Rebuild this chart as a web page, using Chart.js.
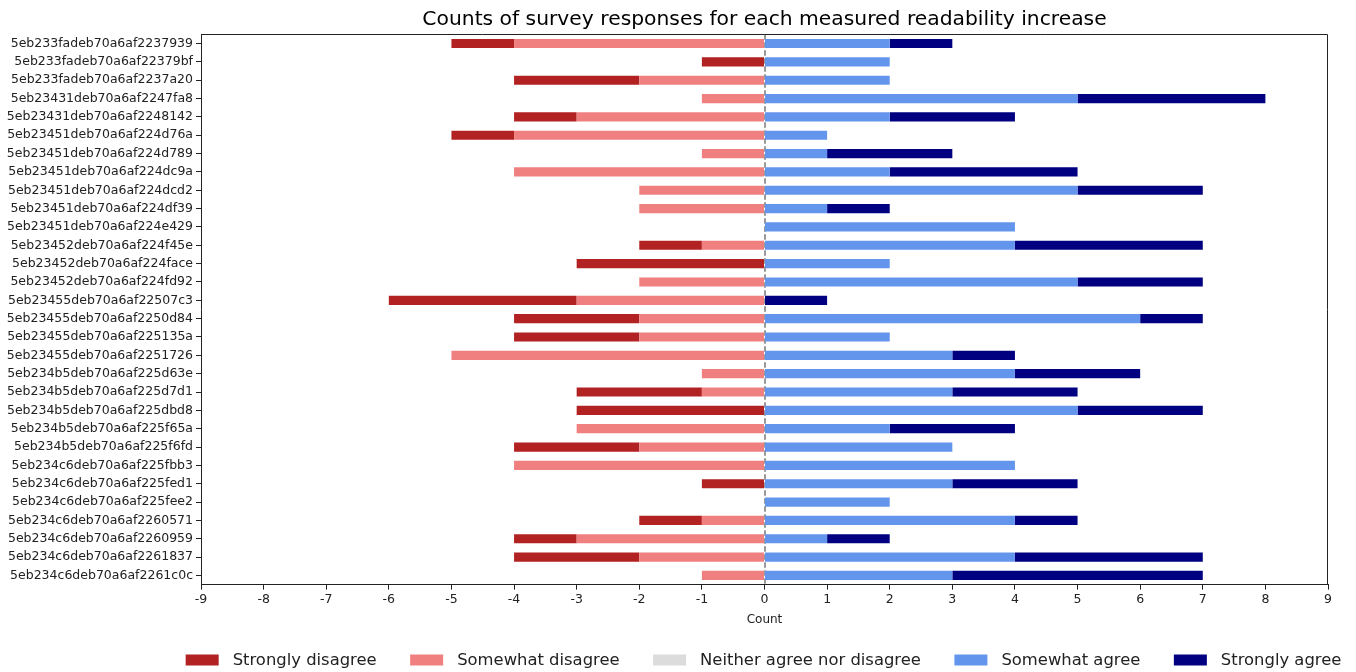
<!DOCTYPE html>
<html>
<head>
<meta charset="utf-8">
<script src="https://cdn.jsdelivr.net/npm/chart.js@4.4.1/dist/chart.umd.min.js"></script>
<style>
  html, body { margin: 0; background: #fff; }
  #wrap { width: 1356px; height: 672px; position: relative; }
</style>
</head>
<body>
<div id="wrap"><canvas id="chart"></canvas></div>
<script>
// Survey items (one row each)
const categories = [
  '5eb233fadeb70a6af2237939', '5eb233fadeb70a6af22379bf', '5eb233fadeb70a6af2237a20',
  '5eb23431deb70a6af2247fa8', '5eb23431deb70a6af2248142', '5eb23451deb70a6af224d76a',
  '5eb23451deb70a6af224d789', '5eb23451deb70a6af224dc9a', '5eb23451deb70a6af224dcd2',
  '5eb23451deb70a6af224df39', '5eb23451deb70a6af224e429', '5eb23452deb70a6af224f45e',
  '5eb23452deb70a6af224face', '5eb23452deb70a6af224fd92', '5eb23455deb70a6af22507c3',
  '5eb23455deb70a6af2250d84', '5eb23455deb70a6af225135a', '5eb23455deb70a6af2251726',
  '5eb234b5deb70a6af225d63e', '5eb234b5deb70a6af225d7d1', '5eb234b5deb70a6af225dbd8',
  '5eb234b5deb70a6af225f65a', '5eb234b5deb70a6af225f6fd', '5eb234c6deb70a6af225fbb3',
  '5eb234c6deb70a6af225fed1', '5eb234c6deb70a6af225fee2', '5eb234c6deb70a6af2260571',
  '5eb234c6deb70a6af2260959', '5eb234c6deb70a6af2261837', '5eb234c6deb70a6af2261c0c'
];

// Response counts per item
const stronglyDisagree = [1,1,2,0,1,1,0,0,0,0,0,1,3,0,3,2,2,0,0,2,3,0,2,0,1,0,1,1,2,0];
const somewhatDisagree = [4,0,2,1,3,4,1,4,2,2,0,1,0,2,3,2,2,5,1,1,0,3,2,4,0,0,1,3,2,1];
const neitherAgree     = [0,0,0,0,0,0,0,0,0,0,0,0,0,0,0,0,0,0,0,0,0,0,0,0,0,0,0,0,0,0];
const somewhatAgree    = [2,2,2,5,2,1,1,2,5,1,4,4,2,5,0,6,2,3,4,3,5,2,3,4,3,2,4,1,4,3];
const stronglyAgree    = [1,0,0,3,2,0,2,3,2,1,0,3,0,2,1,1,0,1,2,2,2,2,0,0,2,0,1,1,3,4];

const responseLabels = [
  'Strongly disagree', 'Somewhat disagree', 'Neither agree nor disagree',
  'Somewhat agree', 'Strongly agree'
];
const countTicks = [-9,-8,-7,-6,-5,-4,-3,-2,-1,0,1,2,3,4,5,6,7,8,9];

const FONT = '"DejaVu Sans", "Liberation Sans", sans-serif';
const INK = '#222';

// Dashed reference line at zero, behind the bars
const zeroLine = {
  id: 'zeroLine',
  beforeDatasetsDraw(chart) {
    const { ctx, chartArea, scales } = chart;
    const x = Math.round(scales.x.getPixelForValue(0));
    ctx.save();
    ctx.strokeStyle = '#999';
    ctx.lineWidth = 2;
    ctx.setLineDash([5.5, 2.5]);
    ctx.beginPath();
    ctx.moveTo(x, chartArea.top);
    ctx.lineTo(x, chartArea.bottom);
    ctx.stroke();
    ctx.restore();
  }
};

// Top and right edges of the plotting box (left/bottom come from the axes)
const frame = {
  id: 'frame',
  afterDatasetsDraw(chart) {
    const { ctx, chartArea: a } = chart;
    const top = Math.round(a.top) + 0.5;
    const right = Math.round(a.right) - 0.5;
    ctx.save();
    ctx.strokeStyle = INK;
    ctx.lineWidth = 1;
    ctx.beginPath();
    ctx.moveTo(a.left, top);
    ctx.lineTo(right, top);
    ctx.lineTo(right, a.bottom);
    ctx.stroke();
    ctx.restore();
  }
};

// Single-row legend centred under the plotting area
const bottomLegend = {
  id: 'bottomLegend',
  afterDraw(chart) {
    const { ctx, chartArea } = chart;
    const boxW = 33, boxH = 11, textGap = 14, itemGap = 33.5;
    ctx.save();
    ctx.font = '16.4px ' + FONT;
    const items = chart.data.datasets.map(ds => ({
      label: ds.label, color: ds.backgroundColor, w: ctx.measureText(ds.label).width
    }));
    const total = items.reduce((s, it) => s + boxW + textGap + it.w, 0) + itemGap * (items.length - 1);
    let x = (chartArea.left + chartArea.right) / 2 - total / 2 - 1;
    const y = chart.height - 12;
    ctx.textBaseline = 'middle';
    ctx.textAlign = 'left';
    items.forEach(it => {
      ctx.fillStyle = it.color;
      ctx.fillRect(x, y - boxH / 2, boxW, boxH);
      ctx.fillStyle = INK;
      ctx.fillText(it.label, x + boxW + textGap, y + 1);
      x += boxW + textGap + it.w + itemGap;
    });
    ctx.restore();
  }
};

const colors = ['#b22222', '#f08080', '#dcdcdc', '#6495ed', '#000080'];
const seriesValues = [
  stronglyDisagree.map(v => -v),
  somewhatDisagree.map(v => -v),
  neitherAgree,
  somewhatAgree,
  stronglyAgree
];
// stacking order: inner segments first so they sit next to zero
const stackOrder = [1, 0, 0, 0, 1];

new Chart(document.getElementById('chart'), {
  type: 'bar',
  data: {
    labels: categories,
    datasets: responseLabels.map((label, i) => ({
      label,
      data: seriesValues[i],
      backgroundColor: colors[i],
      borderWidth: 0,
      order: stackOrder[i],
      barPercentage: 0.5,
      categoryPercentage: 1.0
    }))
  },
  options: {
    indexAxis: 'y',
    responsive: true,
    maintainAspectRatio: false,
    animation: false,
    layout: { padding: { top: 0, right: 28, bottom: 45, left: 0 } },
    plugins: {
      legend: { display: false },
      tooltip: { enabled: false },
      title: {
        display: true,
        fullSize: false,
        text: 'Counts of survey responses for each measured readability increase',
        color: '#000',
        font: { family: FONT, size: 20.3, weight: 'normal' },
        padding: { top: 8, bottom: 2 }
      }
    },
    scales: {
      x: {
        stacked: true,
        min: -9,
        max: 9,
        afterBuildTicks: s => { s.ticks = countTicks.map(v => ({ value: v })); },
        grid: { display: true, drawOnChartArea: false, drawTicks: true, tickLength: 5, color: INK },
        border: { display: true, color: INK, width: 1 },
        ticks: { color: INK, font: { family: FONT, size: 12.5 }, padding: 3, maxRotation: 0, autoSkip: false },
        title: { display: true, text: 'Count', color: INK, font: { family: FONT, size: 12 }, padding: { top: 2, bottom: 0 } }
      },
      y: {
        stacked: true,
        afterFit: s => { s.width = 201; },
        grid: { display: true, offset: false, drawOnChartArea: false, drawTicks: true, tickLength: 5, color: INK },
        border: { display: true, color: INK, width: 1 },
        ticks: { color: INK, font: { family: FONT, size: 12.5 }, padding: 3, autoSkip: false }
      }
    }
  },
  plugins: [zeroLine, frame, bottomLegend]
});
</script>
</body>
</html>
